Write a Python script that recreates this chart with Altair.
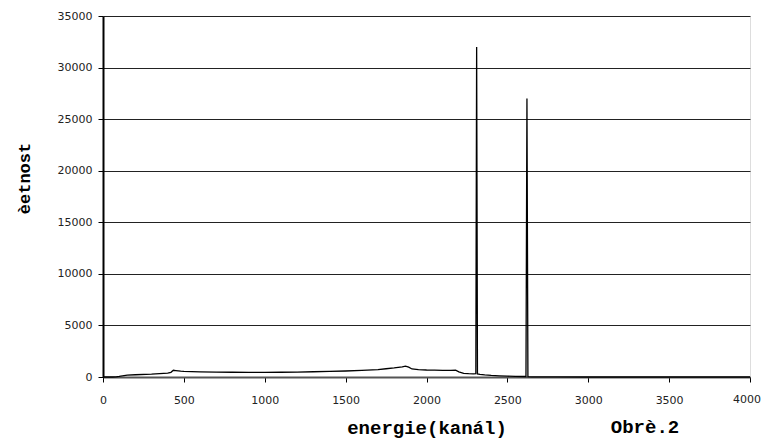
import altair as alt
import pandas as pd

# channel (energy) and counts
channel = [0, 60, 80, 100, 150, 200, 300, 400, 420, 435, 450, 480, 500, 600, 700,
           800, 900, 1000, 1100, 1200, 1300, 1400, 1500, 1600, 1700, 1750, 1800,
           1850, 1870, 1890, 1910, 1950, 2000, 2050, 2100, 2150, 2180, 2200, 2230,
           2260, 2290, 2305, 2310, 2315, 2330, 2360, 2400, 2450, 2500, 2550, 2600,
           2615, 2621, 2627, 2650, 2700, 2800, 3000, 3500, 4000]
counts = [0, 0, 20, 60, 180, 220, 280, 380, 450, 650, 620, 560, 540, 500, 470,
          460, 450, 450, 460, 480, 510, 540, 580, 640, 720, 800, 880,
          980, 1050, 950, 780, 720, 680, 660, 650, 650, 660, 500, 360,
          320, 300, 320, 32000, 300, 250, 200, 150, 110, 80, 60, 50,
          50, 27000, 40, 20, 10, 5, 0, 0, 0]

y_ticks = [0, 5000, 10000, 15000, 20000, 25000, 30000, 35000]
x_ticks = [0, 500, 1000, 1500, 2000, 2500, 3000, 3500, 4000]
x_last = [4000]

df = pd.DataFrame({"kanal": channel, "pocet": counts})

W, H = 647, 361

x_scale = alt.Scale(domain=[0, 4000], nice=False)

line = alt.Chart(df).mark_line(color="black", strokeWidth=1.3).encode(
    x=alt.X("kanal:Q", scale=x_scale,
            axis=alt.Axis(values=x_ticks, format="d", title="energie(kanál)", grid=False,
                          labelFlush=False,
                          labelExpr="datum.value == 4000 ? '' : datum.label",
                          domainColor="#555", domainWidth=2, tickColor="black",
                          tickSize=5, labelPadding=12, labelFont="DejaVu Sans",
                          labelFontSize=11, labelColor="#222",
                          titleFont="Liberation Mono", titleFontSize=19,
                          titleFontWeight="bold", titleColor="black",
                          titleX=W / 2, titleY=56, titleBaseline="alphabetic")),
    y=alt.Y("pocet:Q",
            scale=alt.Scale(domain=[0, 35000], nice=False),
            axis=alt.Axis(values=y_ticks, format="d", title="èetnost", grid=True,
                          gridColor="#222", gridWidth=1,
                          domainColor="black", domainWidth=2, tickColor="black",
                          tickSize=5, labelPadding=6, labelFont="DejaVu Sans",
                          labelFontSize=11, labelColor="#222",
                          titleFont="Liberation Mono", titleFontSize=17,
                          titleFontWeight="bold", titleColor="black",
                          titleAngle=-90, titleX=-79, titleY=162,
                          titleBaseline="middle", titleAlign="center")),
)

last_label = alt.Chart(pd.DataFrame({"v": x_last})).mark_text(
    font="DejaVu Sans", fontSize=11, color="#222", align="right",
    baseline="middle", dx=11).encode(
    x=alt.X("v:Q", scale=x_scale), y=alt.value(H + 23),
    text=alt.Text("v:Q", format="d"))

label = alt.Chart(pd.DataFrame({"t": ["Obrè.2"]})).mark_text(
    font="Liberation Mono", fontSize=19, fontWeight="bold", color="black",
    align="center", baseline="alphabetic").encode(
    x=alt.value(542), y=alt.value(H + 56), text="t:N")

chart = alt.layer(line, last_label, label).properties(
    width=W, height=H,
    autosize=alt.AutoSizeParams(type="none"),
    padding={"left": 95, "top": 8, "right": 11, "bottom": 63},
).configure_view(stroke="#888", strokeWidth=2).configure(background="white")

chart.save("out.html", embed_options={"renderer": "svg", "actions": False})
